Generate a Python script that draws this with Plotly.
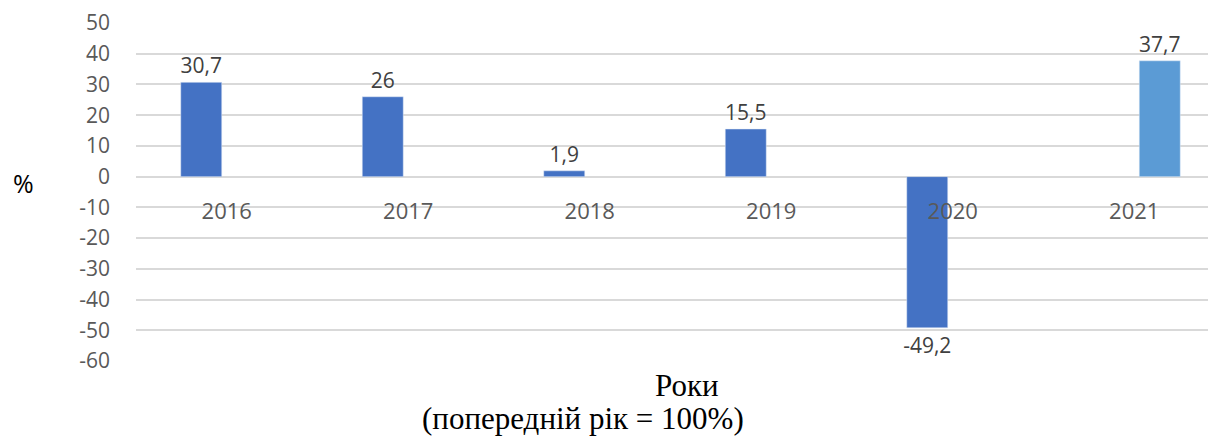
import plotly.graph_objects as go

years = ["2016", "2017", "2018", "2019", "2020", "2021"]
series_main = [30.7, 26, 1.9, 15.5, -49.2, None]
series_last = [None, None, None, None, None, 37.7]
y_ticks = [50, 40, 30, 20, 10, 0, -10, -20, -30, -40, -50, -60]

x_idx = list(range(len(years)))


def fmt(v):
    if v is None:
        return ""
    return ("%g" % v).replace(".", ",")


# page body has an 8px margin; work in reference pixels and shift
OFF = 8
W, H = 1216 - OFF, 437 - OFF
L, T = 136 - OFF, 23 - OFF
B = H - (361 - OFF)
R = 0
slot = 181.5
plot_w = W - L - R
plot_h = H - T - B


def px(xr):
    return (xr - OFF - L) / plot_w


def py(yr):
    return (H - B - (yr - OFF)) / plot_h


group_w = 102
bar_w = 41

lbl_font = dict(family="Open Sans", size=21, color="#404040")

fig = go.Figure()
fig.add_trace(go.Bar(
    x=x_idx, y=series_main, marker_color="#4472C4",
    text=[fmt(v) for v in series_main], textposition="outside",
    textfont=lbl_font, constraintext="none",
    cliponaxis=False, showlegend=False,
))
fig.add_trace(go.Bar(
    x=x_idx, y=series_last, marker_color="#5B9BD5",
    text=[fmt(v) for v in series_last], textposition="outside",
    textfont=lbl_font, constraintext="none",
    cliponaxis=False, showlegend=False,
))

fig.update_layout(
    width=W, height=H,
    margin=dict(l=L, r=R, t=T, b=B, pad=0),
    paper_bgcolor="white", plot_bgcolor="white",
    barmode="group", bargap=1 - group_w / slot,
    bargroupgap=1 - bar_w / (group_w / 2),
    font=dict(family="Open Sans", color="#595959"),
    xaxis=dict(
        range=[-0.5, -0.5 + plot_w / slot],
        tickmode="array", tickvals=x_idx, ticktext=years,
        anchor="free", position=60 / 110,
        showgrid=False, showline=False, zeroline=False, ticks="",
        tickfont=dict(family="Open Sans", size=22, color="#595959"),
        ticklabelstandoff=19,
    ),
    yaxis=dict(
        range=[-60, 50], tickmode="array", tickvals=y_ticks,
        ticktext=[str(v) for v in y_ticks],
        showgrid=True, gridcolor="#D9D9D9", gridwidth=1.5,
        zeroline=True, zerolinecolor="#D9D9D9", zerolinewidth=1.5,
        showline=False, ticks="",
        tickfont=dict(family="Open Sans", size=21, color="#595959"),
        ticklabelstandoff=25,
    ),
    annotations=[
        dict(text="%", xref="paper", yref="paper", x=px(23), y=py(183),
             xanchor="center", yanchor="middle", showarrow=False,
             font=dict(family="Open Sans", size=25, color="black")),
        dict(text="Роки", xref="paper", yref="paper", x=px(687), y=py(385),
             xanchor="center", yanchor="middle", showarrow=False,
             font=dict(family="Liberation Serif", size=31, color="black")),
        dict(text="(попередній рік = 100%)", xref="paper", yref="paper",
             x=px(583), y=py(418), xanchor="center", yanchor="middle",
             showarrow=False,
             font=dict(family="Liberation Serif", size=31, color="black")),
    ],
)

fig.write_html("out.html")
